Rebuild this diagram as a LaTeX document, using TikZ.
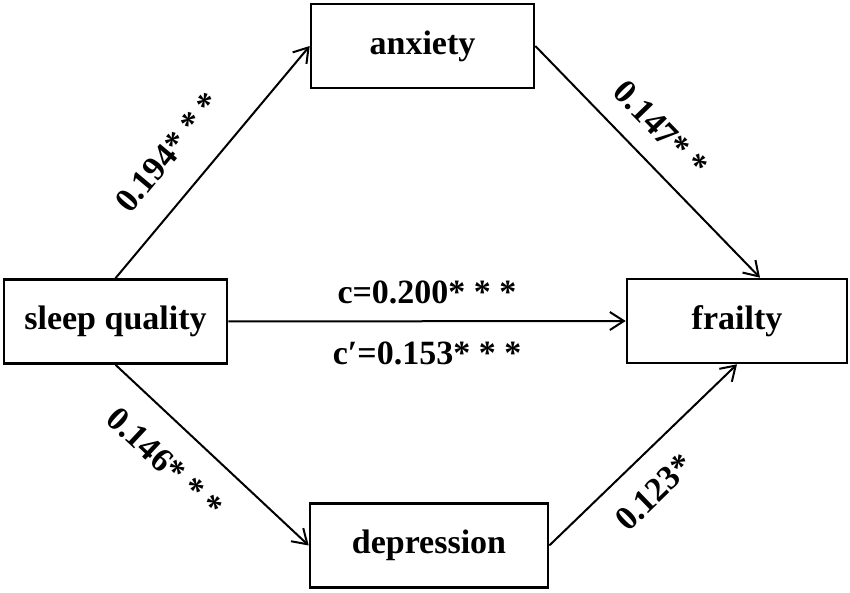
\documentclass[tikz,border=0pt]{standalone}
\usepackage{fontspec}
\setmainfont{Liberation Serif}
\usetikzlibrary{arrows.meta}

\begin{document}
\begin{tikzpicture}[x=0.5pt, y=0.5pt,
		varbox/.style={draw, line width=1.3pt, minimum height=42pt, inner sep=0pt, font=\fontsize{17}{20}\selectfont\bfseries},
		effect/.style={line width=1pt, -{Straight Barb[length=7pt, width=9pt]}},
		coef/.style={font=\fontsize{17}{20}\selectfont\bfseries, inner sep=0pt, sloped}]
			%%%%% START %%%%%
			
			\useasboundingbox (0, 0) rectangle (850, 593);
			
			\node[varbox, minimum width=111.5pt] (sleep) at (115.5, 271.5) {sleep quality};
			\node[varbox, minimum width=111.5pt] (anx) at (422.5, 547) {anxiety};
			\node[varbox, minimum width=110pt] (frail) at (737, 272) {frailty};
			\node[varbox, minimum width=119pt] (dep) at (429, 47.5) {depression};
			
			\draw[effect] (sleep.north) -- (anx.west)
				node[coef, pos=0.43, above=14pt] (a1) {0.194* * *};
			\draw[effect] (anx.east) -- ([xshift=11.5pt]frail.north)
				node[coef, pos=0.455, above=10pt] (b1) {0.147* *};
			\draw[effect] (sleep.south) -- (dep.west)
				node[coef, pos=0.39, below=12.5pt] (a2) {0.146* * *};
			\draw[effect] (dep.east) -- (frail.south)
				node[coef, pos=0.43, below=11pt] (b2) {0.123*};
			
			\draw[effect] (sleep.east) -- (frail.west)
				node[coef, midway, above=8pt] (c) {c=0.200* * *}
				node[coef, midway, below=10pt] (cp) {c′=0.153* * *};
			
			%%%%% END %%%%%
		\end{tikzpicture}
\end{document}
